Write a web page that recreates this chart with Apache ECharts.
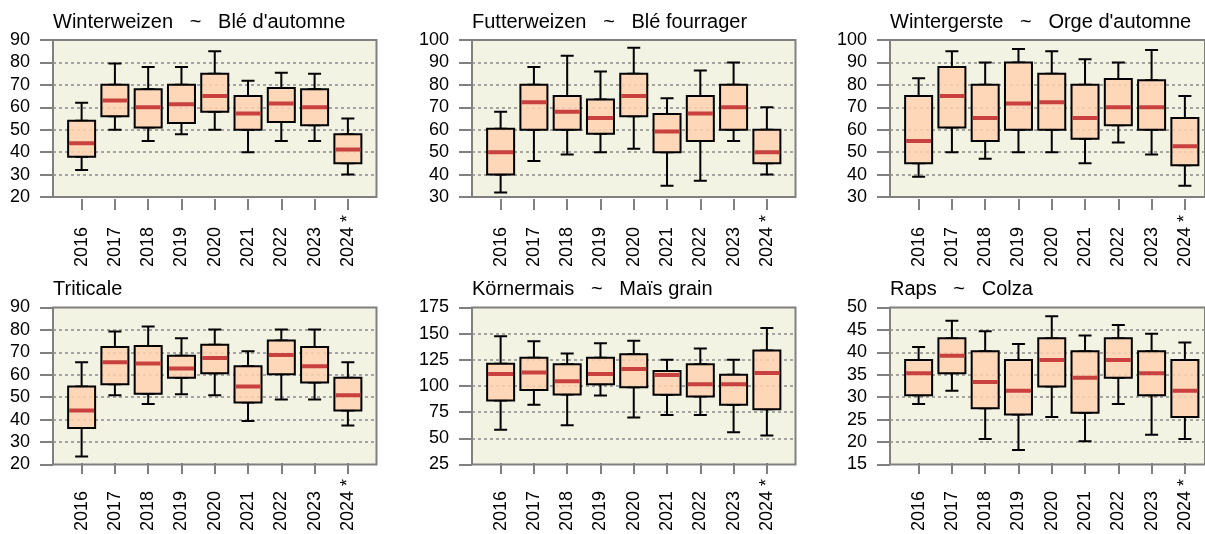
<!DOCTYPE html>
<html>
<head>
<meta charset="utf-8">
<script src="https://cdn.jsdelivr.net/npm/echarts@6/dist/echarts.min.js"></script>
<style>
html,body{margin:0;padding:0;background:#fff;}
#chart{width:1205px;height:534px;}
</style>
</head>
<body>
<div id="chart"></div>
<script>
// ---- data: each item is [min, Q1, median, Q3, max] ----
const years = ['2016','2017','2018','2019','2020','2021','2022','2023','2024'];
const markedYear = '2024';

const titles = [
  'Winterweizen   ~   Blé d\'automne',
  'Futterweizen   ~   Blé fourrager',
  'Wintergerste   ~   Orge d\'automne',
  'Triticale',
  'Körnermais   ~   Maïs grain',
  'Raps   ~   Colza'
];

const yMin  = [20, 30, 30, 20, 25, 15];
const yMax  = [90, 100, 100, 90, 175, 50];
const yStep = [10, 10, 10, 10, 25, 5];

const winterweizen = [
  [32, 38, 44, 54, 62],
  [50, 56, 63, 70, 79.5],
  [45, 51, 60, 68, 78],
  [48, 53, 61.3, 70, 78],
  [50, 58, 65, 75, 85],
  [40, 50, 57.2, 65, 71.8],
  [45, 53.4, 61.7, 68.6, 75.4],
  [45, 52, 60, 68, 75],
  [30, 35, 41.2, 48, 55]
];
const futterweizen = [
  [32, 40, 50, 60.4, 68],
  [46, 60, 72.2, 80, 88],
  [49, 60, 68, 75, 93],
  [50, 58.2, 65.2, 73.5, 86],
  [51.5, 66, 75, 85, 96.6],
  [35, 50, 59.2, 67, 74],
  [37.3, 55, 67.2, 75, 86.4],
  [55, 60, 70, 80, 90],
  [40, 45, 50, 60, 70]
];
const wintergerste = [
  [39, 45, 55, 75, 83],
  [50, 61, 75, 88, 95],
  [47, 55, 65.2, 80, 90],
  [50, 60, 71.7, 90, 96],
  [50, 60, 72.3, 85, 95],
  [45, 56, 65.2, 80, 91.4],
  [54.3, 62, 70, 82.6, 90],
  [49, 60, 70, 82, 95.5],
  [35, 44.2, 52.6, 65.2, 75]
];
const triticale = [
  [22, 35, 43, 54, 65],
  [50, 55, 65, 72, 79],
  [46, 50.7, 64.5, 72.4, 81.3],
  [50.4, 58, 62.2, 68, 76],
  [50, 60, 67, 73, 80],
  [38.2, 46.7, 54, 63.2, 70],
  [48, 59.6, 68.3, 75, 80],
  [48, 55.8, 63.2, 72, 80],
  [36.2, 43, 50, 58, 65]
];
const koernermais = [
  [55.5, 84, 110, 120, 147],
  [80, 94.3, 111.5, 126, 142],
  [60, 90, 103, 119.5, 130],
  [89, 100, 110, 126, 140],
  [67.6, 97, 115, 129.3, 142.4],
  [70, 89.6, 109, 113, 124],
  [70, 88, 100, 119.5, 135],
  [53, 80, 100, 109.3, 124],
  [50, 75.6, 111, 133, 155]
];
const raps = [
  [28, 30, 35, 38, 41],
  [31, 35, 39, 43, 47],
  [20, 27, 33, 40, 44.6],
  [17.5, 25.6, 31, 38, 41.7],
  [25, 32, 38, 43, 48],
  [19.5, 26, 34, 40, 43.6],
  [28, 34, 38, 43, 46],
  [21, 30, 35, 40, 44],
  [20, 25, 31, 38, 42]
];

const crops = [winterweizen, futterweizen, wintergerste, triticale, koernermais, raps];

// ---- styling / layout ----
const FONT = 'Liberation Sans, Arial, Helvetica, sans-serif';
const BG = '#F3F3E3';
const FRAME = '#808080';
const GRIDC = '#8a8a8a';
const FILL = 'rgba(255,209,177,0.86)';
const RED = '#C8413F';

const frameLeft = [53, 472, 890];
const frameTop = [40, 307.5];
const frameW = 323.5;
const frameH = 157;
const unit = frameW / 9.72;

const option = {
  animation: false,
  backgroundColor: '#ffffff',
  textStyle: { fontFamily: FONT },
  title: [], grid: [], xAxis: [], yAxis: [], series: []
};

crops.forEach((data, p) => {
  const L = frameLeft[p % 3];
  const T = frameTop[Math.floor(p / 3)];

  option.title.push({
    text: titles[p], left: L, top: T - 28, padding: 0,
    textStyle: { fontFamily: FONT, fontSize: 20, fontWeight: 'normal', color: '#000' }
  });

  const gA = option.grid.length;
  option.grid.push({ left: L, top: T, width: frameW, height: frameH, show: true,
    backgroundColor: BG, borderColor: FRAME, borderWidth: 2 });
  const gB = option.grid.length;
  option.grid.push({ left: L + 0.36 * unit, top: T, width: 9 * unit, height: frameH });

  // frame grid axes
  option.xAxis.push({ gridIndex: gA, type: 'value', show: false, min: 0, max: 1 });
  option.yAxis.push({
    gridIndex: gA, type: 'value', min: yMin[p], max: yMax[p], interval: yStep[p],
    axisLine: { show: false },
    axisTick: { show: true, length: 13, lineStyle: { color: FRAME, width: 2 } },
    axisLabel: { fontFamily: FONT, fontSize: 18, color: '#000', margin: 23 },
    splitLine: { show: true, showMinLine: false, showMaxLine: false,
      lineStyle: { color: GRIDC, width: 1.5, type: [3, 3] } }
  });
  const yB = option.yAxis.length;
  option.yAxis.push({ gridIndex: gB, type: 'value', min: yMin[p], max: yMax[p], show: false });

  // category axes in inner grid
  const axMain = option.xAxis.length;
  option.xAxis.push({
    gridIndex: gB, type: 'category', data: years, position: 'bottom', offset: 2,
    axisLine: { show: false, onZero: false },
    axisTick: { show: true, alignWithLabel: true, length: 11, lineStyle: { color: FRAME, width: 2 } },
    axisLabel: { rotate: 90, interval: 0, fontFamily: FONT, fontSize: 18, color: '#000', margin: 28 },
    splitLine: { show: false }
  });
  const axStar = option.xAxis.length;
  option.xAxis.push({
    gridIndex: gB, type: 'category', data: years, position: 'bottom', offset: 2,
    axisLine: { show: false, onZero: false }, axisTick: { show: false },
    axisLabel: { rotate: 90, interval: 0, fontFamily: FONT, fontSize: 18, color: '#000', margin: 16,
      formatter: v => (v === markedYear ? '*' : '') },
    splitLine: { show: false }
  });
  const axLow = option.xAxis.length;
  option.xAxis.push({ gridIndex: gB, type: 'category', data: years, position: 'bottom', show: false,
    axisLine: { onZero: false } });
  const axUp = option.xAxis.length;
  option.xAxis.push({ gridIndex: gB, type: 'category', data: years, position: 'bottom', show: false,
    axisLine: { onZero: false } });

  const whiskStyle = { color: 'rgba(0,0,0,0)', borderColor: '#000', borderWidth: 2 };
  option.series.push({
    type: 'boxplot', xAxisIndex: axLow, yAxisIndex: yB, silent: true, z: 2,
    boxWidth: [13, 13], itemStyle: whiskStyle,
    data: data.map(d => [d[0], d[1], d[1], d[1], d[1]])
  });
  option.series.push({
    type: 'boxplot', xAxisIndex: axUp, yAxisIndex: yB, silent: true, z: 2,
    boxWidth: [13, 13], itemStyle: whiskStyle,
    data: data.map(d => [d[3], d[3], d[3], d[3], d[4]])
  });
  option.series.push({
    type: 'boxplot', xAxisIndex: axMain, yAxisIndex: yB, silent: true, z: 3,
    boxWidth: [27, 27], itemStyle: { color: FILL, borderColor: '#000', borderWidth: 2 },
    data: data.map(d => [d[1], d[1], d[1], d[3], d[3]])
  });
  option.series.push({
    type: 'boxplot', xAxisIndex: axStar, yAxisIndex: yB, silent: true, z: 4,
    boxWidth: [25, 25], itemStyle: { color: RED, borderColor: RED, borderWidth: 4 },
    data: data.map(d => [d[2], d[2], d[2], d[2], d[2]])
  });
});

const chart = echarts.init(document.getElementById('chart'), null, { renderer: 'canvas' });
chart.setOption(option);
</script>
</body>
</html>
